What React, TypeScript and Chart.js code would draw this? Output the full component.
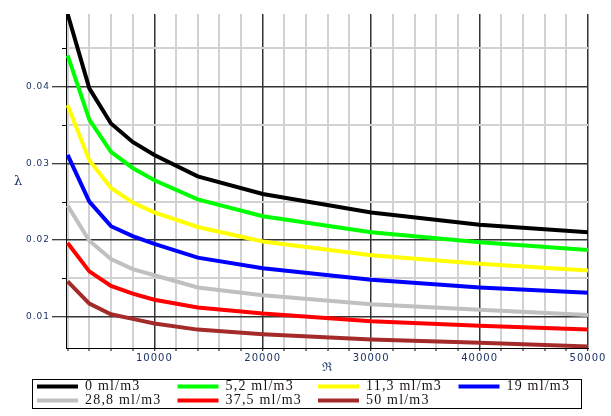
import React, { useEffect, useRef } from "react";
import { Chart, registerables } from "chart.js";

Chart.register(...registerables);

const X_VALUES = [2000, 4000, 6000, 8000, 10000, 14000, 20000, 30000, 40000, 50000];
const LAMBDA_0 = [0.0495, 0.0398, 0.0352, 0.0328, 0.0311, 0.0283, 0.026, 0.0236, 0.022, 0.021];
const LAMBDA_5_2 = [0.0441, 0.0357, 0.0315, 0.0294, 0.0278, 0.0253, 0.0231, 0.021, 0.0197, 0.0187];
const LAMBDA_11_3 = [0.0376, 0.0304, 0.0268, 0.0249, 0.0236, 0.0217, 0.0198, 0.018, 0.0169, 0.016];
const LAMBDA_19 = [0.0311, 0.025, 0.0218, 0.0205, 0.0195, 0.0177, 0.0163, 0.0148, 0.0138, 0.0131];
const LAMBDA_28_8 = [0.0245, 0.0199, 0.0175, 0.0162, 0.0154, 0.0138, 0.0128, 0.0116, 0.0109, 0.0102];
const LAMBDA_37_5 = [0.0196, 0.0159, 0.014, 0.013, 0.0122, 0.0112, 0.0104, 0.0094, 0.0088, 0.0083];
const LAMBDA_50 = [0.0146, 0.0117, 0.0103, 0.0097, 0.0091, 0.0083, 0.0077, 0.007, 0.0066, 0.0061];

const SERIES_LABELS = ["0 ml/m3", "5,2 ml/m3", "11,3 ml/m3", "19 ml/m3", "28,8 ml/m3", "37,5 ml/m3", "50 ml/m3"];
const SERIES_VALUES = [LAMBDA_0, LAMBDA_5_2, LAMBDA_11_3, LAMBDA_19, LAMBDA_28_8, LAMBDA_37_5, LAMBDA_50];
const SERIES_COLORS = ["#000000", "#00ff00", "#ffff00", "#0000ff", "#c0c0c0", "#ff0000", "#a52a2a"];

// tick positions: x minor every 2000, labelled every 10000; y minor every 0.005, labelled every 0.01
const X_TICK_STEP = 2000;
const X_LABEL_STEP = 10000;
const X_TICK_FIRST = 2000;
const X_TICK_LAST = 50000;
const Y_TICK_STEP = 0.005;
const Y_LABEL_STEP = 0.01;
const Y_TICK_FIRST = 0.01;
const Y_TICK_LAST = 0.045;

const X_TITLE = "ℜ";
const Y_TITLE = "λ";
const TICK_COLOR = "#1c3464";

const isMult = (v: number, step: number) => Math.abs(v / step - Math.round(v / step)) < 1e-6;

const buildTicks = (first: number, last: number, step: number) => {
  const out: { value: number }[] = [];
  const n = Math.round((last - first) / step);
  for (let i = 0; i <= n; i++) out.push({ value: +(first + i * step).toFixed(6) });
  return out;
};

const decorPlugin = {
  id: "decor",
  beforeDraw(chart: any) {
    (chart.ctx as any).letterSpacing = "1px";
  },
  afterDraw(chart: any) {
    const ctx = chart.ctx as CanvasRenderingContext2D;
    const ca = chart.chartArea;
    const ys = chart.scales.y;
    ctx.save();
    // minor y ticks
    ctx.strokeStyle = "#000";
    ctx.lineWidth = 1;
    for (const t of ys.ticks) {
      const v = t.value;
      if (!isMult(v, Y_LABEL_STEP)) {
        const py = Math.round(ys.getPixelForValue(v)) + 0.5;
        ctx.beginPath();
        ctx.moveTo(ca.left - 4, py);
        ctx.lineTo(ca.left, py);
        ctx.stroke();
      }
    }
    // axis titles
    (ctx as any).letterSpacing = "0px";
    ctx.fillStyle = TICK_COLOR;
    ctx.textAlign = "center";
    ctx.textBaseline = "middle";
    ctx.font = '13px "DejaVu Serif"';
    ctx.fillText(Y_TITLE, 18, 182);
    ctx.font = '12px "DejaVu Serif"';
    ctx.fillText(X_TITLE, (ca.left + ca.right) / 2, 368);
    // legend box
    ctx.strokeStyle = "#000";
    ctx.lineWidth = 1;
    ctx.strokeRect(32.5, 379.5, 549, 29);
    (ctx as any).letterSpacing = "1.2px";
    ctx.font = '14px "Liberation Serif"';
    ctx.textAlign = "left";
    chart.data.datasets.forEach((ds: any, i: number) => {
      const col = i % 4;
      const row = Math.floor(i / 4);
      const x0 = 37 + col * 140.5;
      const y = 386.5 + row * 14;
      ctx.strokeStyle = ds.borderColor;
      ctx.lineWidth = 4;
      ctx.beginPath();
      ctx.moveTo(x0, y);
      ctx.lineTo(x0 + 41, y);
      ctx.stroke();
      ctx.fillStyle = "#1a1410";
      ctx.fillText(ds.label, x0 + 48, y);
    });
    ctx.restore();
  },
};

export default function App() {
  const ref = useRef<HTMLCanvasElement | null>(null);
  useEffect(() => {
    document.body.style.margin = "0";
    const canvas = ref.current!;
    const chart = new Chart(canvas, {
      type: "line",
      data: {
        datasets: SERIES_VALUES.map((vals, i) => ({
          label: SERIES_LABELS[i],
          data: X_VALUES.map((x, j) => ({ x, y: vals[j] })),
          borderColor: SERIES_COLORS[i],
          backgroundColor: SERIES_COLORS[i],
          borderWidth: 4,
          pointRadius: 0,
          tension: 0,
          fill: false,
        })),
      },
      options: {
        animation: false,
        responsive: false,
        events: [],
        layout: { padding: { left: 0, right: 23, top: 14, bottom: 38 } },
        plugins: { legend: { display: false }, tooltip: { enabled: false } },
        scales: {
          x: {
            type: "linear",
            min: 1850,
            max: 50000,
            afterBuildTicks: (s: any) => {
              s.ticks = buildTicks(X_TICK_FIRST, X_TICK_LAST, X_TICK_STEP);
            },
            afterFit: (s: any) => {
              s.height = 30;
            },
            ticks: {
              autoSkip: false,
              maxRotation: 0,
              padding: 1,
              color: TICK_COLOR,
              font: { family: "DejaVu Sans", size: 10 },
              callback: (v: any) => (isMult(Number(v), X_LABEL_STEP) ? String(v) : ""),
            },
            grid: {
              color: (c: any) => {
                const v = c.tick?.value;
                if (v === undefined) return "rgba(0,0,0,0)";
                return isMult(v, X_LABEL_STEP) ? "#333333" : "#d2d2d2";
              },
              lineWidth: (c: any) => (c.tick && isMult(c.tick.value, X_LABEL_STEP) ? 1.5 : 2),
              tickColor: "#000",
              tickWidth: 1,
              tickLength: 3,
            },
            border: { color: "#000", width: 1 },
          },
          y: {
            type: "linear",
            min: 0.0059,
            max: 0.0495,
            afterBuildTicks: (s: any) => {
              s.ticks = buildTicks(Y_TICK_FIRST - Y_TICK_STEP, Y_TICK_LAST, Y_TICK_STEP).filter(
                (t) => t.value >= 0.0059
              );
            },
            afterFit: (s: any) => {
              s.width = 66;
            },
            ticks: {
              autoSkip: false,
              padding: 2,
              color: TICK_COLOR,
              font: { family: "DejaVu Sans", size: 9 },
              callback: (v: any) => (isMult(Number(v), Y_LABEL_STEP) ? Number(v).toFixed(2) : ""),
            },
            grid: {
              color: (c: any) => {
                const v = c.tick?.value;
                if (v === undefined) return "rgba(0,0,0,0)";
                return isMult(v, Y_LABEL_STEP) ? "#333333" : "#d2d2d2";
              },
              lineWidth: (c: any) => (c.tick && isMult(c.tick.value, Y_LABEL_STEP) ? 1.5 : 2),
              tickColor: (c: any) => (c.tick && isMult(c.tick.value, Y_LABEL_STEP) ? "#000" : "rgba(0,0,0,0)"),
              tickWidth: 1,
              tickLength: 14,
            },
            border: { color: "#000", width: 1 },
          },
        },
      },
      plugins: [decorPlugin],
    });
    return () => chart.destroy();
  }, []);
  return (
    <div style={{ width: 611, height: 416 }}>
      <canvas ref={ref} width={611} height={416} style={{ display: "block" }} />
    </div>
  );
}
